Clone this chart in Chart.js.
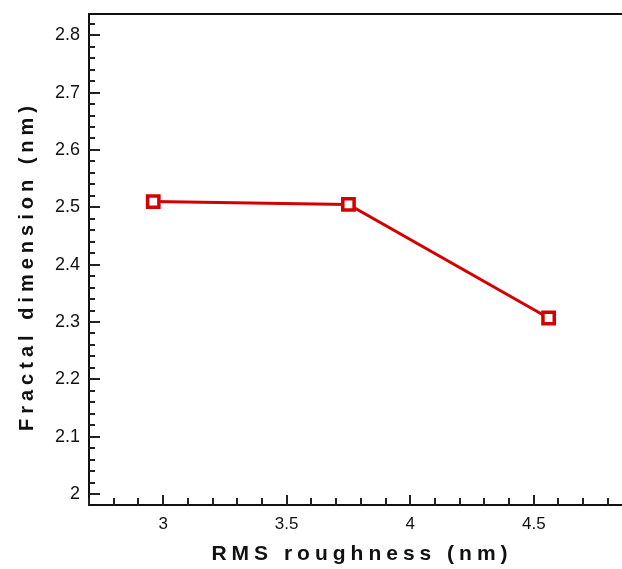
<!DOCTYPE html>
<html>
<head>
    <meta charset="UTF-8">
    <title>fractalChart</title>
    <script src="https://cdn.jsdelivr.net/npm/chart.js"></script>
    <style>
        body { margin: 0; background: #fff; }
    </style>
</head>
<body>
    <canvas id="fractalChart" width="622" height="569"></canvas>

    <script>
        // values
        var roughness = [2.96, 3.75, 4.56];
        var fractalDim = [2.51, 2.505, 2.307];
        var xTickLabels = [3, 3.5, 4, 4.5];
        var yTickLabels = [2, 2.1, 2.2, 2.3, 2.4, 2.5, 2.6, 2.7, 2.8];
        var xTitle = 'RMS roughness (nm)';
        var yTitle = 'Fractal dimension (nm)';

        var fontFamily = "'Liberation Sans', Arial, sans-serif";

        // inward major/minor tick marks, top border and spaced axis titles
        var framePlugin = {
            id: 'frame',
            afterDraw: function (chart) {
                var ctx = chart.ctx;
                var area = chart.chartArea;
                var xs = chart.scales.x;
                var ys = chart.scales.y;
                ctx.save();
                ctx.strokeStyle = '#222';
                ctx.lineWidth = 2;
                ctx.beginPath();
                for (var i = 27; i <= 48; i++) {
                    var v = i / 10;
                    var px = Math.round(xs.getPixelForValue(v));
                    var len = (i % 5 === 0) ? 10 : 7;
                    ctx.moveTo(px, area.bottom);
                    ctx.lineTo(px, area.bottom - len);
                }
                for (var j = 100; j <= 141; j++) {
                    var w = j / 50;
                    var py = Math.round(ys.getPixelForValue(w));
                    var l = (j % 5 === 0) ? 11 : 6;
                    ctx.moveTo(area.left, py);
                    ctx.lineTo(area.left + l, py);
                }
                ctx.stroke();

                ctx.strokeStyle = '#111';
                ctx.beginPath();
                ctx.moveTo(area.left - 1, area.top);
                ctx.lineTo(area.right, area.top);
                ctx.stroke();

                ctx.fillStyle = '#111';
                ctx.font = 'bold 21px ' + fontFamily;
                ctx.letterSpacing = '5px';
                ctx.textAlign = 'center';
                ctx.textBaseline = 'alphabetic';
                ctx.fillText(xTitle, 362, 560);

                ctx.font = 'bold 20px ' + fontFamily;
                ctx.translate(33, 266);
                ctx.rotate(-Math.PI / 2);
                ctx.fillText(yTitle, 0, 0);
                ctx.restore();
            }
        };

        function createFractalChart() {
            var ctx = document.getElementById('fractalChart').getContext('2d');
            var points = [];
            for (var i = 0; i < roughness.length; i++) {
                points.push({ x: roughness[i], y: fractalDim[i] });
            }
            var fractalChart = new Chart(ctx, {
                type: 'scatter',
                data: {
                    datasets: [{
                        label: yTitle,
                        data: points,
                        showLine: true,
                        borderColor: '#d40000',
                        borderWidth: 3,
                        pointStyle: 'rect',
                        pointRadius: 8,
                        pointBorderWidth: 3.5,
                        pointBackgroundColor: '#fff',
                        pointBorderColor: '#d40000'
                    }]
                },
                options: {
                    responsive: false,
                    animation: false,
                    layout: { autoPadding: false, padding: { top: 14, right: 0, left: 0, bottom: 0 } },
                    plugins: {
                        legend: { display: false },
                        tooltip: { enabled: false }
                    },
                    scales: {
                        x: {
                            type: 'linear',
                            min: 2.7,
                            max: 4.857,
                            afterBuildTicks: function (scale) {
                                scale.ticks = xTickLabels.map(function (v) { return { value: v }; });
                            },
                            afterFit: function (scale) {
                                scale.height = 64;
                                scale.paddingLeft = 0;
                                scale.paddingRight = 0;
                            },
                            grid: { display: false, drawTicks: false },
                            border: { display: true, color: '#111', width: 2 },
                            ticks: {
                                padding: 9,
                                color: '#111',
                                maxRotation: 0,
                                autoSkip: false,
                                font: { family: fontFamily, size: 17 },
                                callback: function (v) { return String(v); }
                            }
                        },
                        y: {
                            min: 1.981,
                            max: 2.837,
                            afterBuildTicks: function (scale) {
                                scale.ticks = yTickLabels.map(function (v) { return { value: v }; });
                            },
                            afterFit: function (scale) {
                                scale.width = 89;
                                scale.paddingTop = 0;
                                scale.paddingBottom = 0;
                            },
                            grid: { display: false, drawTicks: false },
                            border: { display: true, color: '#111', width: 2 },
                            ticks: {
                                padding: 9,
                                color: '#111',
                                autoSkip: false,
                                font: { family: fontFamily, size: 18 },
                                callback: function (v) { return String(v); }
                            }
                        }
                    }
                },
                plugins: [framePlugin]
            });
        }
        createFractalChart();
    </script>
</body>
</html>
